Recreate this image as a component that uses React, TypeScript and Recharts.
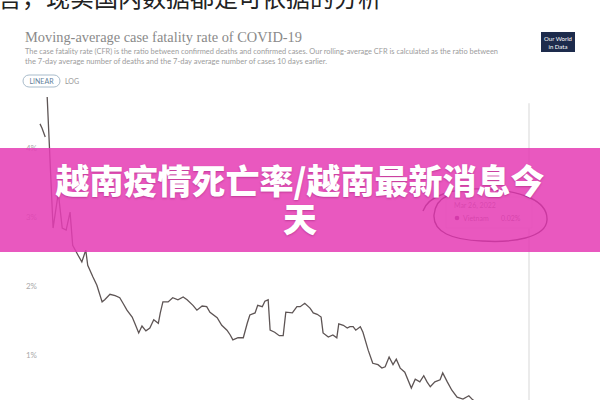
import React from "react";
import { LineChart, Line, XAxis, YAxis, ReferenceLine } from "recharts";

// days since the first plotted day, and the rolling CFR (%)
const days = [
  0, 3, 8, 9, 11, 20, 28, 34, 40, 46, 50, 58, 64, 70, 73, 81, 87, 95, 99, 107,
  115, 122, 127, 133, 141, 145, 151, 156, 162, 168, 174, 181, 184, 188, 196,
  203, 211, 219, 225, 234, 240, 248, 255, 260, 271, 278, 286, 291, 295, 303,
  311, 317, 321, 329, 333, 340, 344, 349, 352, 359, 366, 372, 376, 386, 393,
  398, 405, 413, 418, 424, 430, 433, 441, 448, 454, 457, 464, 470, 474, 479,
  483, 490, 494, 502, 509, 517, 523, 528, 534, 540, 545, 551, 558, 568, 574,
  581, 587, 592, 597, 604, 612, 616, 623, 630, 638, 647, 656, 662, 673, 688,
  704, 719, 734, 748,
];
const cfr: (number | null)[] = [
  4.35, 4.29, 4.16, null, 4.74, 2.84, 3.35, 2.84, 2.81, 3.07, 2.59, 2.45, 2.35,
  2.52, 2.3, 2.13, 2.01, 1.77, 1.8, 1.88, 1.86, 1.83, 1.75, 1.65, 1.55, 1.46,
  1.32, 1.42, 1.35, 1.39, 1.51, 1.46, 1.61, 1.77, 1.77, 1.83, 1.8, 1.84, 1.8,
  1.72, 1.65, 1.71, 1.7, 1.62, 1.54, 1.43, 1.36, 1.29, 1.22, 1.25, 1.25, 1.46,
  1.58, 1.61, 1.72, 1.7, 1.78, 1.8, 1.36, 1.33, 1.28, 1.28, 1.62, 1.61, 1.7,
  1.7, 1.75, 1.68, 1.61, 1.59, 1.55, 1.32, 1.26, 1.29, 1.25, 1.45, 1.43, 1.39,
  1.41, 1.41, 1.36, 1.41, 1.33, 1.07, 0.88, 0.86, 0.81, 0.83, 0.97, 0.86, 0.94,
  0.81, 0.75, 0.52, 0.65, 0.61, 0.7, 0.61, 0.54, 0.61, 0.64, 0.74, 0.61, 0.49,
  0.39, 0.36, 0.41, 0.35, 0.28, 0.2, 0.13, 0.09, 0.04, 0.02,
];
const yTicks = [1, 2, 3, 4];

const title = "Moving-average case fatality rate of COVID-19";
const subtitle1 =
  "The case fatality rate (CFR) is the ratio between confirmed deaths and confirmed cases. Our rolling-average CFR is calculated as the ratio between";
const subtitle2 =
  "the 7-day average number of deaths and the 7-day average number of cases 10 days earlier.";
const headline = "越南疫情死亡率/越南最新消息今天";
const topLine = "言，现实国内数据都是可依据的分析";

const rows = days.map((d, i) => ({ day: d, cfr: cfr[i] }));

export default function App() {
  return (
    <div
      style={{
        position: "fixed",
        top: 0,
        left: 0,
        width: 600,
        height: 400,
        overflow: "hidden",
        background: "#fff",
      }}
    >
      {/* cut-off text from the article above */}
      <div
        style={{
          position: "absolute",
          top: -21,
          left: -2,
          fontFamily: "'Noto Sans CJK SC'",
          fontSize: 24,
          color: "#222",
          whiteSpace: "nowrap",
        }}
      >
        {topLine}
      </div>

      <svg
        width={600}
        height={400}
        style={{ position: "absolute", top: 0, left: 0 }}
      >
        <text
          x={25}
          y={42}
          fontFamily="'Liberation Serif', serif"
          fontSize={14.5}
          fill="#8a8a8a"
          textLength={277}
          lengthAdjust="spacingAndGlyphs"
        >
          {title}
        </text>
        <text
          x={25}
          y={54}
          fontFamily="Lato, sans-serif"
          fontSize={6.8}
          fill="#9c9c9c"
          textLength={473}
          lengthAdjust="spacingAndGlyphs"
        >
          {subtitle1}
        </text>
        <text
          x={25}
          y={64}
          fontFamily="Lato, sans-serif"
          fontSize={6.8}
          fill="#9c9c9c"
          textLength={302}
          lengthAdjust="spacingAndGlyphs"
        >
          {subtitle2}
        </text>
        <rect
          x={23}
          y={75}
          width={37}
          height={12}
          rx={6}
          fill="#fff"
          stroke="#a9bccb"
        />
        <text x={41.5} y={84} textAnchor="middle" fontFamily="Lato" fontSize={7} fill="#5f7f9c">
          LINEAR
        </text>
        <text x={65} y={84} fontFamily="Lato" fontSize={7} fill="#999">
          LOG
        </text>
        <rect x={541} y={32} width={34} height={20} fill="#1d2b4c" />
        <text x={558} y={41} textAnchor="middle" fontFamily="Lato" fontSize={6} fill="#fff">
          Our World
        </text>
        <text x={558} y={49} textAnchor="middle" fontFamily="Lato" fontSize={6} fill="#fff">
          in Data
        </text>
      </svg>

      <div style={{ position: "absolute", top: 0, left: 0 }}>
        <LineChart
          width={600}
          height={430}
          data={rows}
          margin={{ top: 79, right: 71, bottom: 6, left: 0 }}
        >
          <XAxis dataKey="day" type="number" domain={[0, 748]} hide />
          <YAxis
            domain={[0, 5]}
            ticks={yTicks}
            width={40}
            axisLine={false}
            tickLine={false}
            tickSize={0}
            tickMargin={3}
            tickFormatter={(v) => `${v}%`}
            tick={{ fontSize: 8, fill: "#aaa", fontFamily: "Lato" }}
          />
          <ReferenceLine
            segment={[
              { x: 748, y: 4.65 },
              { x: 748, y: 0 },
            ]}
            stroke="#e4e4e4"
            strokeWidth={1.5}
          />
          <Line
            dataKey="cfr"
            type="linear"
            stroke="#5e5555"
            strokeWidth={1.3}
            dot={false}
            connectNulls={false}
            isAnimationActive={false}
          />
        </LineChart>
      </div>

      {/* tooltip + hand-drawn circle */}
      <svg
        width={600}
        height={400}
        style={{ position: "absolute", top: 0, left: 0 }}
      >
        <rect x={446} y={197} width={86} height={31} fill="#fff" stroke="#eee" />
        <text x={454} y={208} fontFamily="Lato" fontSize={7} fill="#888">
          Mar 26, 2022
        </text>
        <circle cx={457} cy={218} r={2.3} fill="#6b2a6a" />
        <text x={463} y={220.5} fontFamily="Lato" fontSize={7} fill="#777">
          Vietnam
        </text>
        <text x={501} y={220.5} fontFamily="Lato" fontSize={7} fill="#777">
          0.02%
        </text>
        <path
          d="M 423 211 C 428 196, 452 188, 482 189 C 522 190, 548 201, 547 220 C 546 238, 512 243, 482 241 C 452 240, 433 232, 434 215 C 435 205, 440 199, 447 196"
          fill="none"
          stroke="#222"
          strokeWidth={1.4}
        />
      </svg>

      {/* pink headline banner */}
      <div
        style={{
          position: "absolute",
          top: 148,
          left: 0,
          width: 600,
          height: 104,
          boxSizing: "border-box",
          background: "rgba(229, 60, 180, 0.86)",
          color: "#fff",
          fontFamily: "'Noto Sans CJK SC'",
          fontWeight: 900,
          fontSize: 34,
          lineHeight: "38px",
          textAlign: "center",
          padding: "13px 50px 0",
          textShadow: "0 1px 2px rgba(120,0,80,0.35)",
        }}
      >
        {headline}
      </div>
    </div>
  );
}
